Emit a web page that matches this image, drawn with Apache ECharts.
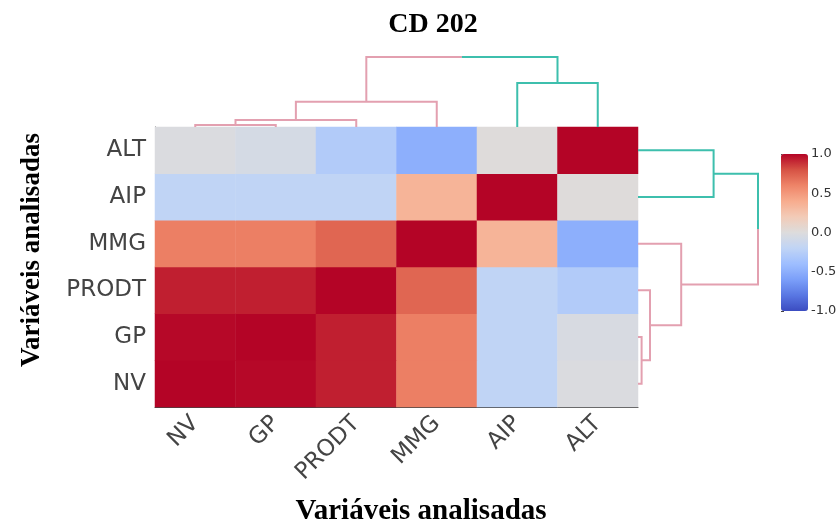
<!DOCTYPE html>
<html>
<head>
<meta charset="utf-8">
<script src="https://cdn.jsdelivr.net/npm/echarts@6/dist/echarts.min.js"></script>
<style>html,body{margin:0;padding:0;background:#fff}#c{width:840px;height:527px}</style>
</head>
<body>
<div id="c"></div>
<script>
// ---- data ----
const variables = ['NV', 'GP', 'PRODT', 'MMG', 'AIP', 'ALT'];
const corrNV    = [1.00, 0.99, 0.93, 0.62, -0.20, -0.02];
const corrGP    = [0.99, 1.00, 0.93, 0.62, -0.20, -0.04];
const corrPRODT = [0.93, 0.93, 1.00, 0.72, -0.20, -0.28];
const corrMMG   = [0.62, 0.62, 0.72, 1.00, 0.35, -0.50];
const corrAIP   = [-0.20, -0.20, -0.20, 0.35, 1.00, 0.01];
const corrALT   = [-0.02, -0.06, -0.28, -0.50, 0.01, 1.00];
const corrRows = [corrNV, corrGP, corrPRODT, corrMMG, corrAIP, corrALT];
// hierarchical clustering merges: [childA, childB, height]; nodes 0-5 are leaves
const mergeA = [0, 6, 7, 4, 8];
const mergeB = [1, 2, 3, 5, 9];
const mergeH = [0.03, 0.10, 0.36, 0.63, 1.00];
const coolwarm = ['#3b4cc0','#5977e3','#7b9ff9','#9ebeff','#c0d4f5','#dddcdc','#f2cbb7','#f7ac8e','#ee8468','#d65244','#b40426'];

// ---- build ----
const heatData = [];
for (let r = 0; r < variables.length; r++)
  for (let c = 0; c < variables.length; c++)
    heatData.push([c, r, corrRows[r][c]]);

const PINK = '#e3a0b0', TEAL = '#3dbfad';
const pos = variables.map((_, i) => i + 0.5);
const hgt = variables.map(() => 0);
const linksTop = [], linksRight = [];
for (let k = 0; k < mergeA.length; k++) {
  const a = mergeA[k], b = mergeB[k], h = mergeH[k];
  const pa = pos[a], pb = pos[b], ha = hgt[a], hb = hgt[b];
  const mid = (pa + pb) / 2;
  pos.push(mid); hgt.push(h);
  const isRoot = k === mergeA.length - 1;
  const col = (k === 3) ? TEAL : PINK;
  const segs = isRoot
    ? [{pts: [[pa, ha], [pa, h], [mid, h]], color: PINK}, {pts: [[mid, h], [pb, h], [pb, hb]], color: TEAL}]
    : [{pts: [[pa, ha], [pa, h], [pb, h], [pb, hb]], color: col}];
  segs.forEach(s => {
    linksTop.push({coords: s.pts.map(p => [p[0], p[1]]), lineStyle: {color: s.color}});
    linksRight.push({coords: s.pts.map(p => [p[1], p[0]]), lineStyle: {color: s.color}});
  });
}

const axisCol = '#444';
const chart = echarts.init(document.getElementById('c'));
chart.setOption({
  animation: false,
  backgroundColor: '#fff',
  grid: [
    {left: 155, right: 202, top: 127, bottom: 120},
    {left: 155, right: 202, top: 57, height: 70},
    {left: 638, width: 120, top: 127, bottom: 120},
    {left: 781, width: 27, top: 154, height: 157}
  ],
  xAxis: [
    {type: 'category', gridIndex: 0, data: variables,
     axisLine: {lineStyle: {color: axisCol, width: 1}},
     axisTick: {alignWithLabel: true, length: 5, lineStyle: {color: axisCol}},
     axisLabel: {rotate: 45, margin: 13, fontSize: 23, fontFamily: 'DejaVu Sans', color: '#444'},
     splitLine: {show: false}},
    {type: 'value', gridIndex: 1, min: 0, max: 6, show: false},
    {type: 'value', gridIndex: 2, min: 0, max: 1, show: false},
    {type: 'value', gridIndex: 3, min: 0, max: 1, show: false}
  ],
  yAxis: [
    {type: 'category', gridIndex: 0, data: variables,
     axisLine: {lineStyle: {color: axisCol, width: 1}},
     axisTick: {alignWithLabel: true, length: 5, lineStyle: {color: axisCol}},
     axisLabel: {margin: 9, fontSize: 23, fontFamily: 'DejaVu Sans', color: '#444'},
     splitLine: {show: false}},
    {type: 'value', gridIndex: 1, min: 0, max: 1, show: false},
    {type: 'value', gridIndex: 2, min: 0, max: 6, show: false},
    {type: 'value', gridIndex: 3, min: -1, max: 1, interval: 0.5, position: 'right',
     axisLine: {show: false}, splitLine: {show: false},
     axisTick: {show: true, length: 3, lineStyle: {color: '#444'}},
     axisLabel: {margin: 3, fontSize: 13, fontFamily: 'DejaVu Sans', color: '#333',
                 formatter: v => v.toFixed(1)}}
  ],
  visualMap: {
    type: 'continuous', min: -1, max: 1, seriesIndex: 0,
    calculable: false, left: 776, top: 149, itemWidth: 27, itemHeight: 157,
    inRange: {color: coolwarm}, text: ['', ''], hoverLink: false,
    indicatorSize: 0, indicatorStyle: {opacity: 0}, handleSize: 0,
    textStyle: {color: 'rgba(0,0,0,0)', fontSize: 1},
    padding: 5
  },
  series: [
    {type: 'heatmap', xAxisIndex: 0, yAxisIndex: 0, data: heatData,
     itemStyle: {borderWidth: 0}, emphasis: {disabled: true}},
    {type: 'lines', coordinateSystem: 'cartesian2d', xAxisIndex: 1, yAxisIndex: 1,
     polyline: true, data: linksTop, lineStyle: {width: 2, opacity: 1}, silent: true},
    {type: 'lines', coordinateSystem: 'cartesian2d', xAxisIndex: 2, yAxisIndex: 2,
     polyline: true, data: linksRight, lineStyle: {width: 2, opacity: 1}, silent: true}
  ],
  graphic: [
    {type: 'text', x: 433, y: 25, style: {text: 'CD 202', font: 'bold 28px "Liberation Serif"', fill: '#000', textAlign: 'center', textVerticalAlign: 'middle'}},
    {type: 'text', x: 421, y: 512, style: {text: 'Variáveis analisadas', font: 'bold 29px "Liberation Serif"', fill: '#000', textAlign: 'center', textVerticalAlign: 'middle'}},
    {type: 'text', x: 32, y: 250, rotation: Math.PI / 2, style: {text: 'Variáveis analisadas', font: 'bold 27px "Liberation Serif"', fill: '#000', textAlign: 'center', textVerticalAlign: 'middle'}}
  ]
});
</script>
</body>
</html>
